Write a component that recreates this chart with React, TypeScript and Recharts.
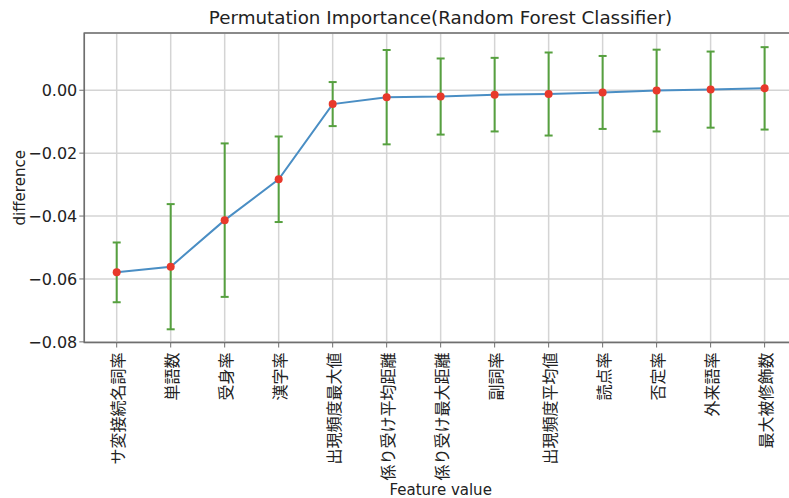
import React from "react";

//recharts
import {
  ComposedChart,
  Line,
  ErrorBar,
  XAxis,
  YAxis,
  CartesianGrid,
  ReferenceArea,
  Label,
} from "recharts";

//data
const features = [
  "サ変接続名詞率",
  "単語数",
  "受身率",
  "漢字率",
  "出現頻度最大値",
  "係り受け平均距離",
  "係り受け最大距離",
  "副詞率",
  "出現頻度平均値",
  "読点率",
  "否定率",
  "外来語率",
  "最大被修飾数",
];
const differences = [
  -0.0579, -0.0561, -0.0413, -0.0283, -0.0044, -0.0022, -0.002, -0.0014,
  -0.0012, -0.0007, -0.0001, 0.0002, 0.0006,
];
const errors = [
  0.0095, 0.0199, 0.0244, 0.0136, 0.007, 0.015, 0.0121, 0.0117, 0.0132,
  0.0116, 0.013, 0.0121, 0.0131,
];
const yTicks = [-0.08, -0.06, -0.04, -0.02, 0];

const data = features.map((name, i) => ({
  i,
  name,
  value: differences[i],
  err: errors[i],
}));

const X_DOMAIN: [number, number] = [-0.6, 12.6];
const Y_DOMAIN: [number, number] = [-0.0802, 0.0182];
const LATIN = "'DejaVu Sans', sans-serif";
const CJK = "'Noto Sans CJK JP', sans-serif";

const fmtY = (v: number) => {
  const s = Math.abs(v).toFixed(2);
  return v < -1e-9 ? "\u2212" + s : s;
};

//rotated japanese tick
const FeatureTick = (props: any) => {
  const { x, y, payload } = props;
  return (
    <text
      x={x}
      y={y}
      transform={`rotate(-90, ${x}, ${y})`}
      textAnchor="end"
      dominantBaseline="central"
      fontFamily={CJK}
      fontSize={16}
      fill="#222"
    >
      {features[payload.value]}
    </text>
  );
};

const App = () => {
  return (
    <div
      style={{
        position: "absolute",
        left: 0,
        top: 0,
        width: 789,
        height: 498,
        overflow: "hidden",
        background: "#fff",
      }}
    >
      <div
        style={{
          position: "absolute",
          left: 84,
          width: 713,
          top: 5,
          textAlign: "center",
          fontFamily: LATIN,
          fontSize: 18.3,
          color: "#222",
          lineHeight: "26px",
        }}
      >
        Permutation Importance(Random Forest Classifier)
      </div>
      <ComposedChart
        width={810}
        height={498}
        data={data}
        margin={{ top: 33, right: 13, left: 0, bottom: 0 }}
      >
        <CartesianGrid stroke="#d4d4d4" strokeWidth={1.5} />
        <XAxis
          dataKey="i"
          type="number"
          domain={X_DOMAIN}
          ticks={features.map((_, i) => i)}
          allowDataOverflow
          height={155.5}
          tickSize={5}
          tickMargin={5}
          stroke="#6f6f6f"
          tick={<FeatureTick />}
          interval={0}
        >
          <Label
            value="Feature value"
            position="insideBottom"
            offset={3}
            fontFamily={LATIN}
            fontSize={15}
            fill="#222"
          />
        </XAxis>
        <YAxis
          type="number"
          domain={Y_DOMAIN}
          ticks={yTicks}
          allowDataOverflow
          width={84.3}
          tickSize={5}
          tickMargin={2}
          tickFormatter={fmtY}
          stroke="#6f6f6f"
          tick={{ fontFamily: LATIN, fontSize: 16, fill: "#222" }}
        >
          <Label
            value="difference"
            angle={-90}
            position="center"
            dx={-22}
            fontFamily={LATIN}
            fontSize={15}
            fill="#222"
          />
        </YAxis>
        <ReferenceArea
          x1={X_DOMAIN[0]}
          x2={X_DOMAIN[1]}
          y1={Y_DOMAIN[0]}
          y2={Y_DOMAIN[1]}
          fill="none"
          stroke="#6f6f6f"
          strokeWidth={1.5}
        />
        <Line
          dataKey="value"
          stroke="#4a8ec4"
          strokeWidth={2}
          dot={{ r: 4, fill: "#e8392b", stroke: "none" }}
          activeDot={false}
          isAnimationActive={false}
        >
          <ErrorBar
            dataKey="err"
            direction="y"
            width={4}
            stroke="#56a03f"
            strokeWidth={2}
            isAnimationActive={false}
          />
        </Line>
      </ComposedChart>
    </div>
  );
};

export default App;
